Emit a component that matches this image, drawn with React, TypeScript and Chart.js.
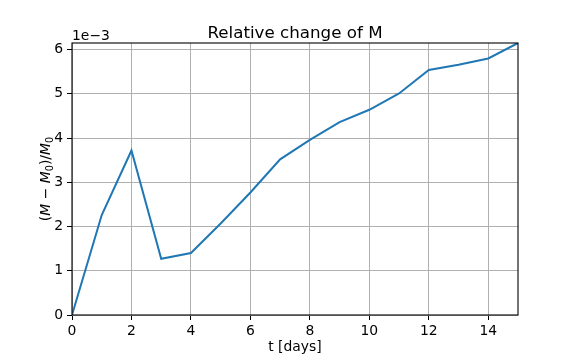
import React, { useEffect, useRef } from "react";
import { Chart, registerables } from "chart.js";

Chart.register(...registerables);

const days: number[] = [0, 1, 2, 3, 4, 5, 6, 7, 8, 9, 10, 11, 12, 13, 14, 15];
const relChangeE3: number[] = [0, 2.26, 3.72, 1.27, 1.40, 2.07, 2.77, 3.52, 3.96, 4.36, 4.64, 5.01, 5.54, 5.66, 5.80, 6.15];
const xTicks: number[] = [0, 2, 4, 6, 8, 10, 12, 14];
const yTicksE3: number[] = [0, 1, 2, 3, 4, 5, 6];

const TITLE = "Relative change of M";
const XLABEL = "t [days]";
const OFFSET_TEXT = "1e\u22123";

const FONT = "'DejaVu Sans', sans-serif";
const FS = 13.9;

const decorPlugin = {
  id: "decor",
  afterDraw(chart: any) {
    const ctx = chart.ctx as CanvasRenderingContext2D;
    const a = chart.chartArea;
    ctx.save();
    ctx.strokeStyle = "#000";
    ctx.lineWidth = 1.1;
    ctx.strokeRect(a.left, a.top, a.right - a.left, a.bottom - a.top);
    ctx.fillStyle = "#000";
    ctx.font = `16.7px ${FONT}`;
    ctx.textAlign = "center";
    ctx.textBaseline = "alphabetic";
    ctx.fillText(TITLE, (a.left + a.right) / 2, 38);
    ctx.font = `${FS}px ${FONT}`;
    ctx.fillText(XLABEL, (a.left + a.right) / 2, 351);
    ctx.textAlign = "left";
    ctx.fillText(OFFSET_TEXT, a.left, 40);
    const segs: [string, string][] = [
      ["(", "n"],
      ["M", "i"],
      [" \u2212 ", "n"],
      ["M", "i"],
      ["0", "s"],
      [")/", "n"],
      ["M", "i"],
      ["0", "s"],
    ];
    const fontFor = (k: string) =>
      k === "i" ? `italic ${FS}px ${FONT}` : k === "s" ? `${FS * 0.7}px ${FONT}` : `${FS}px ${FONT}`;
    let total = 0;
    for (const s of segs) {
      ctx.font = fontFor(s[1]);
      total += ctx.measureText(s[0]).width;
    }
    ctx.translate(50, (a.top + a.bottom) / 2);
    ctx.rotate(-Math.PI / 2);
    let x = -total / 2;
    for (const s of segs) {
      ctx.font = fontFor(s[1]);
      ctx.fillText(s[0], x, s[1] === "s" ? FS * 0.22 : 0);
      x += ctx.measureText(s[0]).width;
    }
    ctx.restore();
  },
};

export default function App() {
  const ref = useRef<HTMLCanvasElement | null>(null);
  useEffect(() => {
    if (!ref.current) return;
    const chart = new Chart(ref.current, {
      type: "line",
      data: {
        datasets: [
          {
            data: days.map((d, i) => ({ x: d, y: relChangeE3[i] / 1000 })),
            borderColor: "#1f77b4",
            borderWidth: 2,
            pointRadius: 0,
            tension: 0,
            fill: false,
          },
        ],
      },
      options: {
        responsive: false,
        animation: false,
        devicePixelRatio: 1,
        layout: { padding: { left: 0, top: 43, right: 58, bottom: 0 } },
        plugins: { legend: { display: false }, tooltip: { enabled: false }, title: { display: false } },
        scales: {
          x: {
            type: "linear",
            min: 0,
            max: 15,
            afterBuildTicks: (s: any) => {
              s.ticks = xTicks.map((v) => ({ value: v }));
            },
            afterFit: (s: any) => {
              s.height = 45;
            },
            grid: { color: "#b0b0b0", lineWidth: 1, tickColor: "#000", tickLength: 5, drawTicks: true },
            border: { display: false },
            ticks: {
              color: "#000",
              font: { family: FONT, size: FS },
              padding: 3,
              maxRotation: 0,
              autoSkip: false,
              callback: (v: any) => String(v),
            },
          },
          y: {
            type: "linear",
            min: 0,
            max: 0.00615,
            afterBuildTicks: (s: any) => {
              s.ticks = yTicksE3.map((v) => ({ value: v / 1000 }));
            },
            afterFit: (s: any) => {
              s.width = 72;
            },
            grid: { color: "#b0b0b0", lineWidth: 1, tickColor: "#000", tickLength: 5, drawTicks: true },
            border: { display: false },
            ticks: {
              color: "#000",
              font: { family: FONT, size: FS },
              padding: 4,
              autoSkip: false,
              callback: (v: any) => String(Math.round(Number(v) * 1000)),
            },
          },
        },
      },
      plugins: [decorPlugin],
    });
    return () => chart.destroy();
  }, []);
  return (
    <div style={{ position: "absolute", left: 0, top: 0, width: 576, height: 360, background: "#fff" }}>
      <canvas ref={ref} width={576} height={360} style={{ display: "block", width: 576, height: 360 }} />
    </div>
  );
}
